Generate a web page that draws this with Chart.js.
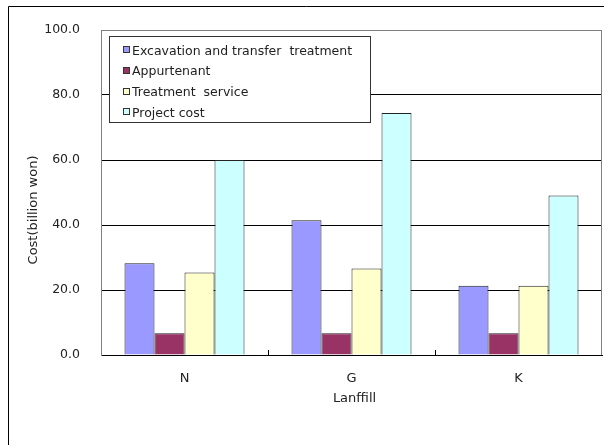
<!DOCTYPE html>
<html><head><meta charset="utf-8">
<script src="https://cdn.jsdelivr.net/npm/chart.js@4"></script>
<style>html,body{margin:0;padding:0;background:#fff}</style>
</head><body>
<canvas id="c" width="604" height="445"></canvas>
<script>
const categories = ['N', 'G', 'K'];
const seriesNames = ['Excavation and transfer  treatment', 'Appurtenant', 'Treatment  service', 'Project cost'];
const excavation = [28.2, 41.5, 21.3];
const appurtenant = [6.7, 6.7, 6.7];
const treatment = [25.4, 26.6, 21.3];
const projectCost = [60.0, 74.5, 49.1];
const yTicks = [0, 20, 40, 60, 80, 100];
const xTitle = 'Lanffill';
const yTitle = 'Cost(billion won)';

const colors = ['#9999FF', '#993366', '#FFFFCC', '#CCFFFF'];
const seriesValues = [excavation, appurtenant, treatment, projectCost];
const FONT = '"DejaVu Sans", sans-serif';
const TEXT = '#222';

const deco = {
  id: 'deco',
  beforeDraw(chart) {
    const ctx = chart.ctx;
    ctx.save();
    ctx.strokeStyle = '#000';
    ctx.lineWidth = 1;
    ctx.beginPath();
    ctx.moveTo(8.5, 445);
    ctx.lineTo(8.5, 6.5);
    ctx.lineTo(604, 6.5);
    ctx.stroke();
    ctx.restore();
  },
  afterDraw(chart) {
    const ctx = chart.ctx;
    const a = chart.chartArea;
    const xs = chart.scales.x;
    ctx.save();
    ctx.strokeStyle = '#808080';
    ctx.lineWidth = 1;
    ctx.beginPath();
    ctx.moveTo(Math.round(a.right) - 0.5, a.top);
    ctx.lineTo(Math.round(a.right) - 0.5, a.bottom);
    ctx.stroke();
    ctx.strokeStyle = '#000';
    for (let i = 1; i < categories.length; i++) {
      const x = Math.round((xs.getPixelForValue(i - 1) + xs.getPixelForValue(i)) / 2) + 0.5;
      ctx.beginPath();
      ctx.moveTo(x, a.bottom - 5);
      ctx.lineTo(x, a.bottom);
      ctx.stroke();
    }
    ctx.fillStyle = TEXT;
    ctx.font = '13px ' + FONT;
    ctx.textAlign = 'center';
    ctx.textBaseline = 'middle';
    ctx.fillText(xTitle, (a.left + a.right) / 2 + 3, 399);
    ctx.save();
    ctx.translate(34, 210);
    ctx.rotate(-Math.PI / 2);
    ctx.fillText(yTitle, 0, 0);
    ctx.restore();
    const lx = 109.5, ly = 36.5, lw = 261, lh = 86;
    ctx.fillStyle = '#fff';
    ctx.fillRect(lx, ly, lw, lh);
    ctx.strokeStyle = '#333';
    ctx.strokeRect(lx, ly, lw, lh);
    ctx.font = '12.5px ' + FONT;
    ctx.textAlign = 'left';
    chart.data.datasets.forEach((ds, i) => {
      const cy = 51.3 + i * 20.7;
      ctx.fillStyle = ds.backgroundColor;
      ctx.fillRect(123, Math.round(cy) - 5, 7, 7);
      ctx.strokeStyle = '#333';
      ctx.strokeRect(123.5, Math.round(cy) - 4.5, 6, 6);
      ctx.fillStyle = TEXT;
      ctx.fillText(ds.label, 132, cy);
    });
    ctx.restore();
  }
};

new Chart(document.getElementById('c'), {
  type: 'bar',
  data: {
    labels: categories,
    datasets: seriesNames.map((name, i) => ({
      label: name,
      data: seriesValues[i],
      backgroundColor: colors[i],
      borderColor: '#222',
      borderWidth: 1,
      categoryPercentage: 0.7186,
      barPercentage: 1
    }))
  },
  options: {
    responsive: false,
    animation: false,
    devicePixelRatio: 1,
    layout: { padding: { top: 30, right: 2, left: 0, bottom: 0 } },
    plugins: { legend: { display: false }, tooltip: { enabled: false } },
    scales: {
      x: {
        grid: { display: false },
        border: { display: true, color: '#000', width: 1 },
        ticks: { color: TEXT, font: { family: FONT, size: 13 }, padding: 8, maxRotation: 0 },
        afterFit(s) { s.height = 90; }
      },
      y: {
        min: 0, max: 100,
        afterBuildTicks(s) { s.ticks = yTicks.map(v => ({ value: v })); },
        grid: {
          drawTicks: false,
          color: c => (c.tick && c.tick.value === 100 ? '#808080' : '#000'),
          lineWidth: 1
        },
        border: { display: true, color: '#808080', width: 1 },
        ticks: {
          color: TEXT, font: { family: FONT, size: 12.5 }, padding: 21,
          callback: v => Number(v).toFixed(1)
        },
        afterFit(s) { s.width = 101; }
      }
    }
  },
  plugins: [deco]
});
</script>
</body></html>
